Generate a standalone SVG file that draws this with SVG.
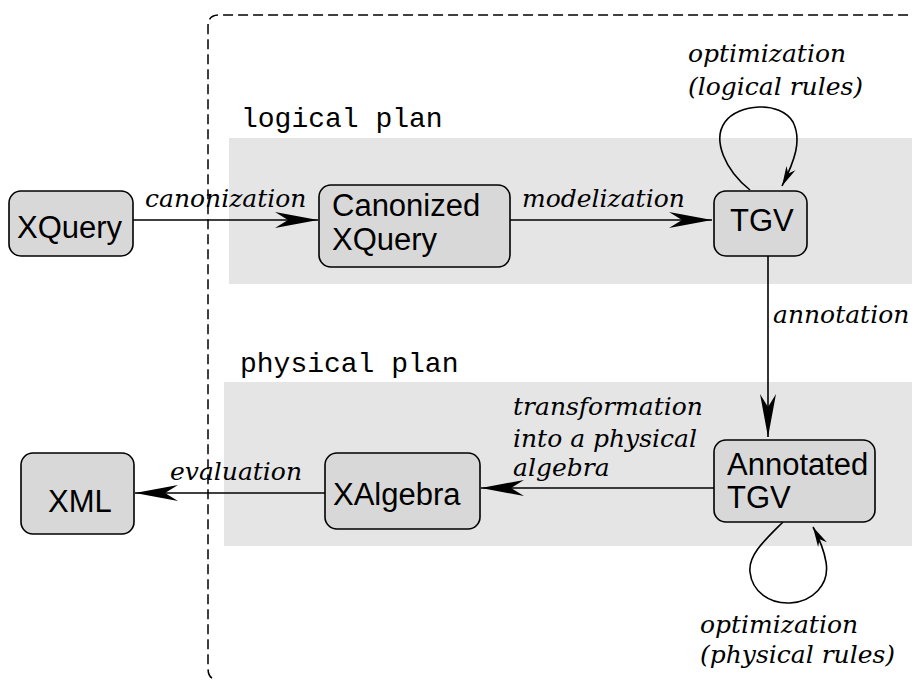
<svg xmlns="http://www.w3.org/2000/svg" width="915" height="682" viewBox="0 0 915 682">
<defs>
<style>
.band{fill:#e5e5e5;stroke:none}
.frame{fill:none;stroke:#000;stroke-width:1.5;stroke-dasharray:10 5}
.node rect{fill:#d8d8d8;stroke:#000;stroke-width:1.6}
.node text{font-family:"Liberation Sans",Arial,sans-serif;font-size:31px;fill:#000}
.plan{font-family:"Liberation Mono","Courier New",monospace;font-size:28px;fill:#000}
.lbl{font-family:"DejaVu Serif",serif;font-style:italic;font-size:25px;fill:#000}
.edge{fill:none;stroke:#000;stroke-width:1.6}
</style>
<marker id="big" markerUnits="userSpaceOnUse" viewBox="-44 -9 46 18" markerWidth="46" markerHeight="18" refX="0" refY="0" orient="auto">
<path d="M0,0 L-43,-8 L-30,0 L-43,8 Z" fill="#000"/>
</marker>
<marker id="small" markerUnits="userSpaceOnUse" viewBox="-22 -6 24 12" markerWidth="24" markerHeight="12" refX="0" refY="0" orient="auto">
<path d="M0,0 L-20,-5 L-14,0 L-20,5 Z" fill="#000"/>
</marker>
</defs>
<rect width="915" height="682" fill="#fff"/>
<g id="bands">
<rect class="band" x="229" y="138" width="683" height="146"/>
<rect class="band" x="224" y="382" width="688" height="164"/>
<text class="plan" x="241" y="127">logical plan</text>
<text class="plan" x="240" y="372">physical plan</text>
</g>
<path class="frame" d="M212,678 Q208,676 208,668 L208,26 Q208,15 219,15 L912,15"/>
<g id="connectors">
<path class="edge" d="M133,220 L318,220" marker-end="url(#big)"/>
<text class="lbl" x="145" y="207">canonization</text>
<path class="edge" d="M510,220 L712,220" marker-end="url(#big)"/>
<text class="lbl" x="522" y="207">modelization</text>
<path class="edge" d="M750,190 C725,170 712,140 725,122 C738,104 780,100 793,122 C802,140 795,160 782,186" marker-end="url(#small)"/>
<text class="lbl" x="688" y="62">optimization</text>
<text class="lbl" x="688" y="95">(logical rules)</text>
<path class="edge" d="M768,256 L768,437" marker-end="url(#big)"/>
<text class="lbl" x="773" y="323">annotation</text>
<path class="edge" d="M714,488 L481,488" marker-end="url(#big)"/>
<text class="lbl" x="513" y="415">transformation</text>
<text class="lbl" x="513" y="447">into a physical</text>
<text class="lbl" x="513" y="476">algebra</text>
<path class="edge" d="M325,493 L135,493" marker-end="url(#big)"/>
<text class="lbl" x="170" y="480">evaluation</text>
<path class="edge" d="M783,522 C765,540 748,555 750,572 C752,592 770,604 790,603 C812,602 830,585 826,562 C824,550 820,540 813,527" marker-end="url(#small)"/>
<text class="lbl" x="700" y="633">optimization</text>
<text class="lbl" x="700" y="663">(physical rules)</text>
</g>
<g id="xquery" class="node">
<rect x="9" y="191" width="124" height="65" rx="12"/>
<text x="17" y="238">XQuery</text>
</g>
<g id="canonized" class="node">
<rect x="319" y="185" width="191" height="82" rx="12"/>
<text x="332" y="216">Canonized</text>
<text x="332" y="250">XQuery</text>
</g>
<g id="tgv" class="node">
<rect x="714" y="191" width="93" height="65" rx="12"/>
<text x="730" y="231">TGV</text>
</g>
<g id="annotated" class="node">
<rect x="714" y="440" width="161" height="82" rx="12"/>
<text x="727" y="475">Annotated</text>
<text x="727" y="508">TGV</text>
</g>
<g id="xalgebra" class="node">
<rect x="325" y="453" width="155" height="76" rx="12"/>
<text x="333" y="505">XAlgebra</text>
</g>
<g id="xml" class="node">
<rect x="21" y="453" width="113" height="81" rx="12"/>
<text x="48" y="512">XML</text>
</g>
</svg>
